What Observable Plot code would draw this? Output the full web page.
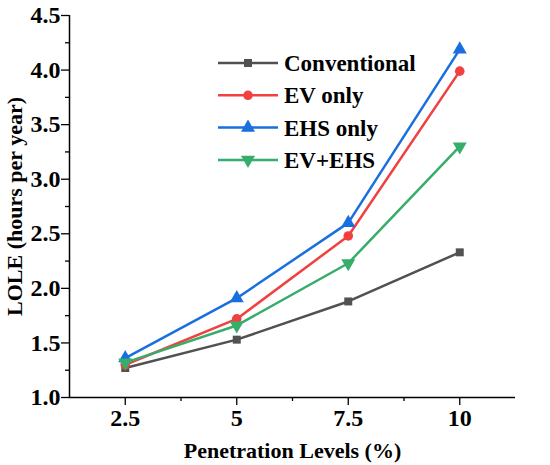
<!DOCTYPE html>
<html>
<head>
<meta charset="utf-8">
<script src="https://cdn.jsdelivr.net/npm/d3@7"></script>
<script src="https://cdn.jsdelivr.net/npm/@observablehq/plot@0.6"></script>
<style>
  html, body { margin: 0; padding: 0; background: #fff; }
  #chart svg { display: block; }
</style>
</head>
<body>
<div id="chart"></div>
<script>
// ---- data ----
const penetration = [2.5, 5, 7.5, 10];
const conventional = [1.27, 1.53, 1.88, 2.33];
const evOnly = [1.30, 1.72, 2.48, 3.99];
const ehsOnly = [1.36, 1.91, 2.60, 4.19];
const evEhs = [1.32, 1.66, 2.23, 3.30];
const seriesNames = ["Conventional", "EV only", "EHS only", "EV+EHS"];
const yMajorTicks = [1.0, 1.5, 2.0, 2.5, 3.0, 3.5, 4.0, 4.5];
const yMinorTicks = [1.25, 1.75, 2.25, 2.75, 3.25, 3.75, 4.25];
const xMinorTicks = [3.75, 6.25, 8.75];
const yLabel = "LOLE (hours per year)";
const xLabel = "Penetration Levels (%)";

// ---- styles ----
const seriesValues = [conventional, evOnly, ehsOnly, evEhs];
const colors = ["#515151", "#F14040", "#1A6FDF", "#37AD6B"];
const symbols = ["square", "circle", "triangle", "triangle"];
const d3Symbols = [d3.symbolSquare, d3.symbolCircle, d3.symbolTriangle, d3.symbolTriangle];
const radii = [4.5, 4.8, 5.2, 5.2];
const rotations = [0, 0, 0, 180];

const tables = seriesNames.map((name, i) =>
  penetration.map((x, j) => ({series: name, x, y: seriesValues[i][j]}))
);

const marks = [
  Plot.axisY({ticks: yMinorTicks, tickSize: 4, text: null, label: null, strokeWidth: 1.3}),
  Plot.axisY({ticks: yMajorTicks, tickSize: 8, tickPadding: 1, tickFormat: d3.format(".1f"),
    fontSize: 24, label: null, strokeWidth: 1.3}),
  Plot.axisX({ticks: xMinorTicks, tickSize: 4, text: null, label: null, strokeWidth: 1.3}),
  Plot.axisX({ticks: penetration, tickSize: 8, tickPadding: 3, tickFormat: d => String(d),
    fontSize: 24, label: null, strokeWidth: 1.3}),
  Plot.text([yLabel], {frameAnchor: "left", textAnchor: "middle", lineAnchor: "middle", rotate: -90, dx: -55, fontSize: 22, fontWeight: "bold"}),
  Plot.text([xLabel], {frameAnchor: "bottom", textAnchor: "middle", lineAnchor: "bottom", dy: 60, fontSize: 22, fontWeight: "bold"}),
  Plot.ruleX([1.25], {stroke: "black", strokeWidth: 1.5}),
  Plot.ruleY([1], {stroke: "black", strokeWidth: 1.5})
];
tables.forEach((rows, i) => {
  marks.push(Plot.line(rows, {x: "x", y: "y", stroke: colors[i], strokeWidth: 2.5}));
  marks.push(Plot.dot(rows, {x: "x", y: "y", fill: colors[i], symbol: symbols[i], r: radii[i], rotate: rotations[i]}));
});

const plot = Plot.plot({
  width: 550,
  height: 465,
  marginLeft: 69,
  marginRight: 35,
  marginTop: 15,
  marginBottom: 68,
  style: {fontFamily: "'Liberation Serif', serif", fontSize: "22px", fontWeight: "bold", color: "black", background: "white"},
  x: {domain: [1.25, 11.25]},
  y: {domain: [1, 4.5]},
  marks
});
document.getElementById("chart").appendChild(plot);

// ---- legend ----
const svg = d3.select(plot);
const lg = svg.append("g").attr("transform", "translate(218,63)");
seriesNames.forEach((name, i) => {
  const row = lg.append("g").attr("transform", `translate(0,${i * 32.3})`);
  row.append("line").attr("x1", 0).attr("x2", 60).attr("y1", 0).attr("y2", 0)
    .attr("stroke", colors[i]).attr("stroke-width", 2.5);
  row.append("path")
    .attr("d", d3.symbol().type(d3Symbols[i]).size(Math.PI * radii[i] * radii[i])())
    .attr("transform", `translate(30,0) rotate(${rotations[i]})`)
    .attr("fill", colors[i]);
  row.append("text").attr("x", 66).attr("y", 0).attr("dy", "0.35em")
    .attr("text-anchor", "start")
    .attr("font-family", "'Liberation Serif', serif").attr("font-size", 23).attr("font-weight", "bold")
    .attr("fill", "black").text(name);
});
</script>
</body>
</html>
